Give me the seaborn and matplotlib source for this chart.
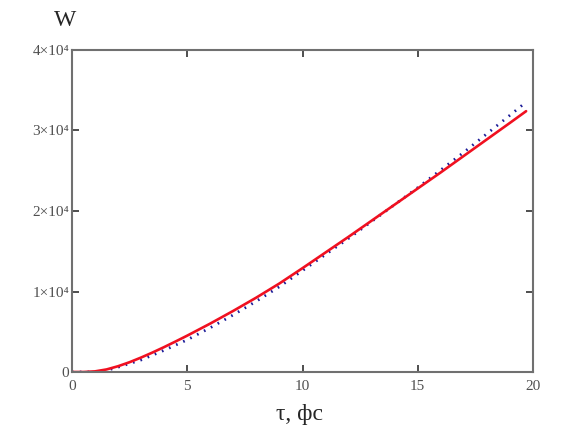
# Energy W vs pulse duration tau: model (red) and fit (blue dotted)
import pandas as pd
import matplotlib
matplotlib.use("Agg")
import matplotlib.pyplot as plt
from matplotlib.ticker import FuncFormatter
import seaborn as sns

tau_red = [0, 0.5, 1, 1.5, 2, 2.5, 3, 3.5, 4, 4.5, 5, 6, 7, 8, 9, 10, 11, 12,
           13, 14, 15, 16, 17, 18, 19, 19.7]
w_red = [0, 0, 80, 320, 720, 1220, 1800, 2430, 3100, 3800, 4520, 6020,
         7600, 9250, 11000, 12900, 14850, 16800, 18800, 20800, 22800, 24800,
         26850, 28900, 30950, 32400]

tau_blue = [0, 1, 1.5, 2, 3, 4, 5, 6, 7, 8, 9, 10, 11, 12, 13, 14, 15, 16,
            17, 18, 19, 19.6]
w_blue = [0, 0, 200, 600, 1500, 2700, 4000, 5500, 7100, 8800, 10600, 12600,
          14600, 16600, 18700, 20800, 22900, 25100, 27300, 29600, 31900, 33300]

xticks = [0, 5, 10, 15, 20]
yticks = [0, 10000, 20000, 30000, 40000]

sns.set_style("white")
plt.rcParams['font.family'] = ['Liberation Serif', 'DejaVu Serif']

df_red = pd.DataFrame({'tau': tau_red, 'W': w_red})
df_blue = pd.DataFrame({'tau': tau_blue, 'W': w_blue})

fig = plt.figure(figsize=(5.65, 4.46), dpi=100)
ax = fig.add_axes([0.1274, 0.1659, 0.816, 0.722])

sns.lineplot(data=df_blue, x='tau', y='W', ax=ax, color='#1c1c98',
             linewidth=2.0, linestyle=(0, (0.6, 2.2)))
sns.lineplot(data=df_red, x='tau', y='W', ax=ax, color='#f01020',
             linewidth=1.9)

ax.set_xlim(0, 20)
ax.set_ylim(0, 40000)
ax.set_xticks(xticks)
ax.set_yticks(yticks)


def fmt(v, pos):
    if v == 0:
        return '0'
    return '%d×10⁴' % round(v / 10000)


ax.yaxis.set_major_formatter(FuncFormatter(fmt))
ax.tick_params(direction='in', length=5, width=1.2, color='#303030',
               labelsize=11, labelcolor='#505050', top=True, right=True,
               left=True, bottom=True)
ax.tick_params(axis='y', pad=2)
ax.tick_params(axis='x', pad=6)
for s in ax.spines.values():
    s.set_color('#707070')
    s.set_linewidth(1.5)

ax.set_xlabel('')
ax.set_ylabel('')
fig.text(0.53, 0.07, 'τ, фс', ha='center', va='center', fontsize=17)
fig.text(0.115, 0.955, 'W', ha='center', va='center', fontsize=17)

fig.savefig('out.png', dpi=100)
